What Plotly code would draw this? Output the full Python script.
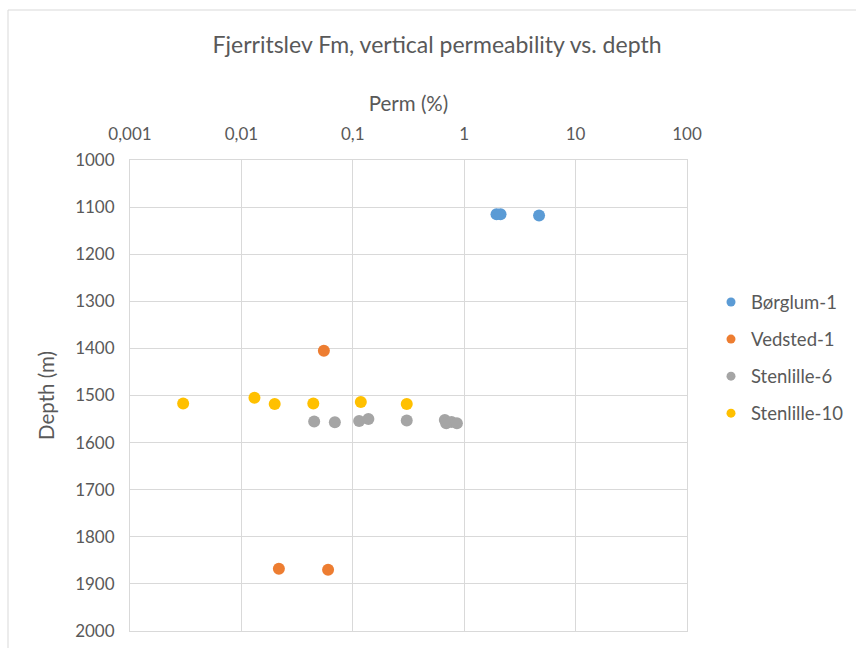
import plotly.graph_objects as go

# Vertical permeability (%) and depth (m) per well
borglum_perm = [1.95, 2.12, 4.7]
borglum_depth = [1115, 1115, 1118]

vedsted_perm = [0.055, 0.0217, 0.060]
vedsted_depth = [1405, 1868, 1870]

stenlille6_perm = [0.045, 0.069, 0.114, 0.138, 0.305, 0.67, 0.69, 0.77, 0.86]
stenlille6_depth = [1555, 1557, 1554, 1550, 1553, 1552, 1559, 1556, 1559]

stenlille10_perm = [0.0030, 0.0131, 0.0199, 0.0442, 0.118, 0.305]
stenlille10_depth = [1517, 1505, 1518, 1517, 1514, 1518]

x_tickvals = [0.001, 0.01, 0.1, 1, 10, 100]
x_ticktext = ["0,001", "0,01", "0,1", "1", "10", "100"]

series = [
    ("Børglum-1", borglum_perm, borglum_depth, "#5B9BD5"),
    ("Vedsted-1", vedsted_perm, vedsted_depth, "#ED7D31"),
    ("Stenlille-6", stenlille6_perm, stenlille6_depth, "#A5A5A5"),
    ("Stenlille-10", stenlille10_perm, stenlille10_depth, "#FFC000"),
]

FONT = "Lato"
TXT = "#595959"
GRID = "#D9D9D9"
NOTICK = "rgba(0,0,0,0)"

fig = go.Figure()
for i, (name, xs, ys, col) in enumerate(series):
    # data markers
    fig.add_trace(go.Scatter(
        x=xs, y=ys, mode="markers", name=name, showlegend=False,
        marker=dict(size=12, color=col, line=dict(width=0)),
    ))
for i, (name, xs, ys, col) in enumerate(series):
    # smaller legend swatches
    fig.add_trace(go.Scatter(
        x=[None], y=[None], mode="markers", name=name, legendgroup=f"g{i}",
        marker=dict(size=9, color=col, line=dict(width=0)),
    ))

fig.update_layout(
    width=856, height=648,
    margin=dict(l=130, r=169, t=160, b=17, autoexpand=False),
    paper_bgcolor="white", plot_bgcolor="white",
    font=dict(family=FONT, color=TXT, size=17),
    title=dict(text="Fjerritslev Fm, vertical permeability vs. depth",
               x=437 / 856, xref="container", xanchor="center",
               y=1 - 45 / 648, yref="container", yanchor="middle",
               font=dict(family=FONT, size=23, color=TXT)),
    xaxis=dict(type="log", range=[-3, 2], side="top", automargin=False,
               tickvals=x_tickvals, ticktext=x_ticktext,
               showgrid=True, gridcolor=GRID, gridwidth=1,
               showline=True, mirror=True, linecolor=GRID, linewidth=1,
               zeroline=False, ticks="outside", ticklen=12, tickcolor=NOTICK,
               tickfont=dict(size=17, color=TXT),
               title=dict(text="Perm (%)", font=dict(size=20.5, color=TXT), standoff=6)),
    yaxis=dict(range=[2000, 1000], dtick=100, tick0=1000, automargin=False,
               showgrid=True, gridcolor=GRID, gridwidth=1,
               showline=True, mirror=True, linecolor=GRID, linewidth=1,
               zeroline=False, ticks="outside", ticklen=11, tickcolor=NOTICK,
               tickfont=dict(size=17, color=TXT),
               title=dict(text="Depth (m)", font=dict(size=20.5, color=TXT), standoff=14)),
    legend=dict(x=(711 - 130) / 557, xanchor="left", y=(631 - 358) / 471, yanchor="middle",
                font=dict(size=18.5, color=TXT), tracegroupgap=10,
                bgcolor="rgba(0,0,0,0)"),
    shapes=[dict(type="rect", xref="paper", yref="paper",
                 x0=(8 - 130) / 557, x1=2.0,
                 y0=-0.5, y1=(631 - 10) / 471,
                 line=dict(color=GRID, width=1), fillcolor="rgba(0,0,0,0)",
                 layer="below")],
)

fig.write_html("out.html")
